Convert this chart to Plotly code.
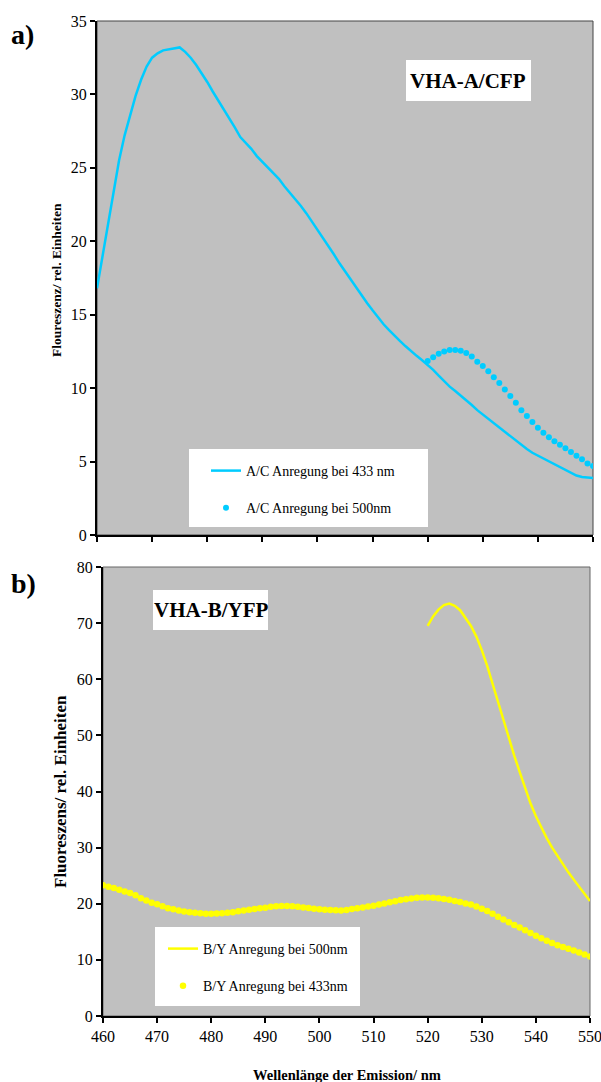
import plotly.graph_objects as go

# ---------------- data ----------------
wl_top_433 = list(range(460, 551))
ac_433 = [16.8, 19.0, 21.0, 23.3, 25.5, 27.2, 28.6, 29.9, 31.0, 31.9,
          32.5, 32.8, 33.0, 33.05, 33.15, 33.2, 32.9, 32.5, 32.0, 31.45,
          30.85, 30.2, 29.6, 29.0, 28.4, 27.75, 27.1, 26.7, 26.3, 25.8,
          25.4, 25.0, 24.6, 24.25, 23.75, 23.3, 22.9, 22.4, 21.9, 21.35,
          20.8, 20.2, 19.65, 19.1, 18.5, 17.95, 17.4, 16.9, 16.35, 15.8,
          15.3, 14.8, 14.35, 13.95, 13.55, 13.2, 12.85, 12.5, 12.2, 11.9,
          11.6, 11.25, 10.85, 10.45, 10.1, 9.8, 9.5, 9.2, 8.85, 8.5,
          8.2, 7.9, 7.6, 7.3, 7.0, 6.7, 6.4, 6.1, 5.85, 5.6,
          5.4, 5.2, 5.0, 4.8, 4.6, 4.4, 4.2, 4.05, 3.95, 3.9, 3.88]

wl_top_500 = list(range(520, 551))
ac_500 = [11.85, 12.1, 12.35, 12.5, 12.6, 12.6, 12.55, 12.4, 12.15, 11.8,
          11.5, 11.15, 10.75, 10.35, 9.9, 9.47, 9.0, 8.5, 8.1, 7.7,
          7.3, 6.96, 6.65, 6.39, 6.15, 5.9, 5.65, 5.4, 5.15, 4.87, 4.7]

wl_bot_500 = list(range(520, 551))
by_500 = [69.5, 71.2, 72.4, 73.2, 73.5, 73.1, 72.3, 71.0, 69.5, 67.6,
          65.2, 62.4, 59.2, 55.9, 52.6, 49.4, 46.4, 43.5, 40.6, 37.9,
          35.6, 33.5, 31.7, 30.0, 28.5, 27.0, 25.6, 24.3, 23.0, 21.7, 20.5]

wl_bot_433 = list(range(460, 551))
by_433 = [23.3, 23.05, 22.8, 22.5, 22.2, 21.9, 21.5, 21.0, 20.6, 20.2,
          19.9, 19.55, 19.2, 19.0, 18.8, 18.6, 18.5, 18.4, 18.3, 18.2,
          18.2, 18.25, 18.3, 18.4, 18.5, 18.65, 18.8, 18.95, 19.05, 19.2,
          19.3, 19.45, 19.55, 19.6, 19.6, 19.55, 19.45, 19.35, 19.25, 19.1,
          19.0, 18.95, 18.9, 18.85, 18.8, 18.9, 19.05, 19.2, 19.35, 19.5,
          19.65, 19.85, 20.05, 20.25, 20.45, 20.65, 20.8, 20.95, 21.05, 21.1,
          21.1, 21.05, 21.0, 20.85, 20.7, 20.5, 20.3, 20.05, 19.85, 19.5,
          19.1, 18.7, 18.2, 17.7, 17.2, 16.7, 16.2, 15.75, 15.3, 14.8,
          14.3, 13.85, 13.4, 13.0, 12.6, 12.3, 12.0, 11.65, 11.3, 10.95, 10.6]

x_ticks = [460, 470, 480, 490, 500, 510, 520, 530, 540, 550]
y_ticks_top = [0, 5, 10, 15, 20, 25, 30, 35]
y_ticks_bot = [0, 10, 20, 30, 40, 50, 60, 70, 80]

CYAN = "#00CCFF"
YELLOW = "#FFFF00"
SERIF = "Liberation Serif, Times New Roman, serif"
W, H = 601, 1082


def px_x(p):
    return p / W


def px_y(p):
    return 1 - p / H


fig = go.Figure()

fig.add_trace(go.Scatter(x=wl_top_433, y=ac_433, mode="lines",
                         line=dict(color=CYAN, width=2.5),
                         name="A/C Anregung bei 433 nm", legendgroup="a1",
                         xaxis="x", yaxis="y", legend="legend"))
fig.add_trace(go.Scatter(x=wl_top_500, y=ac_500, mode="markers",
                         marker=dict(color=CYAN, size=6),
                         name="A/C Anregung bei 500nm", legendgroup="a2",
                         xaxis="x", yaxis="y", legend="legend"))
fig.add_trace(go.Scatter(x=wl_bot_500, y=by_500, mode="lines",
                         line=dict(color=YELLOW, width=2.5),
                         name="B/Y Anregung bei 500nm", legendgroup="b1",
                         xaxis="x2", yaxis="y2", legend="legend2"))
fig.add_trace(go.Scatter(x=wl_bot_433, y=by_433, mode="markers",
                         marker=dict(color=YELLOW, size=6.5),
                         name="B/Y Anregung bei 433nm", legendgroup="b2",
                         xaxis="x2", yaxis="y2", legend="legend2"))

axis_common = dict(showgrid=False, zeroline=False, showline=True,
                   linecolor="black", linewidth=2, ticks="outside",
                   ticklen=5, tickwidth=2, tickcolor="black",
                   automargin=False, ticklabeloverflow="allow",
                   tickfont=dict(family=SERIF, size=16, color="black"))

fig.update_layout(
    width=W, height=H,
    margin=dict(l=0, r=0, t=0, b=0, pad=0, autoexpand=False),
    paper_bgcolor="white",
    plot_bgcolor="#C0C0C0",
    xaxis=dict(domain=[px_x(97), px_x(593)], anchor="y", range=[460, 550],
               tickvals=x_ticks, showticklabels=False, **axis_common),
    yaxis=dict(domain=[px_y(535), px_y(21)], anchor="x", range=[0, 35],
               tickvals=y_ticks_top, **axis_common),
    xaxis2=dict(domain=[px_x(103), px_x(590)], anchor="y2", range=[460, 550],
                tickvals=x_ticks, **axis_common),
    yaxis2=dict(domain=[px_y(1016), px_y(567)], anchor="x2", range=[0, 80],
                tickvals=y_ticks_bot, **axis_common),
    legend=dict(x=px_x(206), y=px_y(455), xanchor="left", yanchor="top",
                bgcolor="rgba(0,0,0,0)", borderwidth=0,
                font=dict(family=SERIF, size=14, color="black"),
                tracegroupgap=16, traceorder="grouped"),
    legend2=dict(x=px_x(163), y=px_y(933), xanchor="left", yanchor="top",
                 bgcolor="rgba(0,0,0,0)", borderwidth=0,
                 font=dict(family=SERIF, size=14, color="black"),
                 tracegroupgap=16, traceorder="grouped"),
    showlegend=True,
)

shapes = [
    # plot frames (thin right/top borders)
    dict(type="rect", xref="x domain", yref="y domain", x0=0, x1=1, y0=0, y1=1,
         line=dict(color="#444444", width=1), layer="below"),
    dict(type="rect", xref="x2 domain", yref="y2 domain", x0=0, x1=1, y0=0, y1=1,
         line=dict(color="#666666", width=1), layer="below"),
    # legend boxes
    dict(type="rect", xref="paper", yref="paper", x0=px_x(189), x1=px_x(428),
         y0=px_y(527), y1=px_y(449), fillcolor="white", line=dict(width=0),
         layer="above"),
    dict(type="rect", xref="paper", yref="paper", x0=px_x(155), x1=px_x(360),
         y0=px_y(1006), y1=px_y(927), fillcolor="white", line=dict(width=0),
         layer="above"),
    # label boxes
    dict(type="rect", xref="paper", yref="paper", x0=px_x(406), x1=px_x(531),
         y0=px_y(101), y1=px_y(60), fillcolor="white", line=dict(width=0),
         layer="above"),
    dict(type="rect", xref="paper", yref="paper", x0=px_x(153), x1=px_x(268),
         y0=px_y(630), y1=px_y(590), fillcolor="white", line=dict(width=0),
         layer="above"),
]
fig.update_layout(shapes=shapes)

annotations = [
    dict(text="<b>a)</b>", x=px_x(9), y=px_y(35), xanchor="left", yanchor="middle",
         font=dict(family=SERIF, size=28, color="black")),
    dict(text="<b>b)</b>", x=px_x(9), y=px_y(583), xanchor="left", yanchor="middle",
         font=dict(family=SERIF, size=28, color="black")),
    dict(text="<b>VHA-A/CFP</b>", x=px_x(468), y=px_y(81), xanchor="center",
         yanchor="middle", font=dict(family=SERIF, size=21, color="black")),
    dict(text="<b>VHA-B/YFP</b>", x=px_x(211), y=px_y(610), xanchor="center",
         yanchor="middle", font=dict(family=SERIF, size=21, color="black")),
    dict(text="<b>Floureszenz/ rel. Einheiten</b>", x=px_x(57), y=px_y(280),
         xanchor="center", yanchor="middle", textangle=-90,
         font=dict(family=SERIF, size=13.5, color="black")),
    dict(text="<b>Fluoreszens/ rel. Einheiten</b>", x=px_x(60), y=px_y(792),
         xanchor="center", yanchor="middle", textangle=-90,
         font=dict(family=SERIF, size=17, color="black")),
    dict(text="<b>Wellenlänge der Emission/ nm</b>", x=px_x(347), y=px_y(1075),
         xanchor="center", yanchor="middle",
         font=dict(family=SERIF, size=14.5, color="black")),
]
for a in annotations:
    a.update(xref="paper", yref="paper", showarrow=False)
fig.update_layout(annotations=annotations)

fig.write_html("out.html")
